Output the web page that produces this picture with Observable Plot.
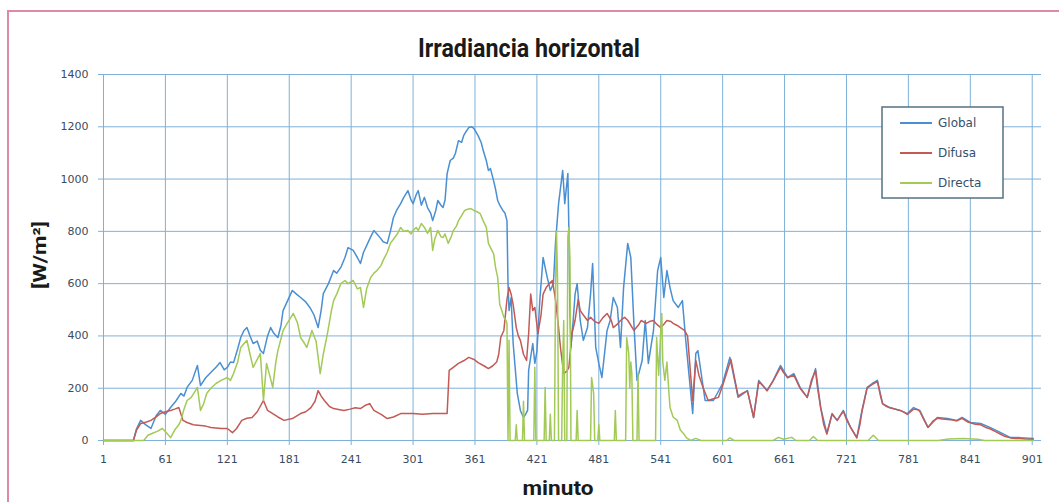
<!DOCTYPE html>
<html>
<head>
<meta charset="utf-8">
<script src="https://cdn.jsdelivr.net/npm/d3@7"></script>
<script src="https://cdn.jsdelivr.net/npm/@observablehq/plot@0.6"></script>
<style>
html,body{margin:0;padding:0;background:#fff;}
#wrap{position:relative;width:1059px;height:502px;overflow:hidden;}
#frame{position:absolute;left:7px;top:10px;width:1100px;height:600px;border:2px solid #dc8aa6;box-sizing:border-box;}
#chart{position:absolute;left:0;top:0;}
</style>
</head>
<body>
<div id="wrap"><div id="frame"></div><div id="chart"></div></div>
<script>
// ---- data (minute, W/m²) ----
const xTicks = [1, 61, 121, 181, 241, 301, 361, 421, 481, 541, 601, 661, 721, 781, 841, 901];
const yTicks = [0, 200, 400, 600, 800, 1000, 1200, 1400];
const seriesNames = ["Global", "Difusa", "Directa"];
const seriesColors = ["#4a8fd2", "#c25a56", "#a3c957"];

const globalSerie = [[1,0],[30,0],[33,45],[37,77],[42,60],[47,46],[52,95],[56,115],[61,100],[66,126],[71,150],[76,180],[79,170],[82,203],[87,230],[92,287],[95,210],[100,240],[105,260],[110,280],[114,298],[118,270],[121,280],[124,300],[127,298],[131,350],[134,394],[137,420],[140,432],[143,400],[146,371],[150,380],[153,345],[156,333],[160,400],[163,432],[166,410],[170,394],[173,440],[175,497],[180,540],[184,574],[188,560],[192,547],[197,530],[201,509],[205,480],[209,432],[212,500],[214,562],[219,600],[224,650],[227,640],[231,662],[235,700],[238,738],[243,727],[247,700],[250,677],[253,720],[257,754],[260,780],[263,803],[266,790],[269,776],[272,760],[276,754],[279,800],[282,853],[285,880],[289,906],[292,930],[296,956],[299,920],[301,906],[304,940],[306,956],[309,900],[312,930],[315,891],[318,870],[320,841],[323,880],[325,918],[328,900],[330,891],[332,920],[334,1021],[337,1071],[340,1080],[342,1098],[345,1147],[348,1140],[350,1166],[352,1180],[355,1197],[358,1200],[360,1193],[362,1180],[364,1166],[367,1140],[369,1109],[372,1070],[374,1033],[376,1040],[379,994],[381,960],[383,918],[385,900],[388,880],[390,870],[392,841],[393,600],[394,497],[396,547],[398,371],[402,180],[405,115],[408,88],[410,100],[412,115],[413,268],[417,371],[419,295],[421,340],[424,547],[427,700],[431,624],[434,574],[437,600],[439,754],[442,906],[446,1033],[448,906],[451,1021],[452,800],[453,500],[454,356],[456,450],[458,560],[460,600],[463,459],[466,383],[470,432],[473,560],[475,677],[478,356],[481,295],[484,241],[489,421],[492,459],[495,547],[499,509],[502,356],[505,585],[509,754],[512,700],[515,448],[518,230],[523,306],[526,459],[529,295],[534,421],[538,650],[541,700],[544,547],[547,650],[550,585],[553,535],[558,509],[562,535],[565,394],[568,268],[572,103],[575,333],[577,344],[584,153],[592,153],[601,218],[608,318],[616,165],[625,191],[631,88],[636,230],[644,191],[650,230],[657,287],[664,241],[670,256],[676,203],[683,165],[691,275],[696,126],[702,27],[707,103],[712,77],[718,115],[725,50],[731,11],[736,115],[741,203],[746,218],[751,230],[756,141],[763,126],[773,115],[780,103],[786,126],[792,115],[800,50],[809,88],[819,84],[828,77],[833,88],[841,69],[851,65],[860,50],[870,31],[880,11],[889,11],[902,8]];

const difusaSerie = [[1,0],[30,0],[33,40],[37,65],[42,70],[47,77],[52,90],[56,103],[61,110],[66,115],[70,120],[74,126],[78,77],[82,69],[88,60],[95,57],[100,55],[105,50],[110,48],[115,46],[121,46],[126,30],[130,46],[135,77],[140,85],[145,88],[150,110],[156,153],[160,115],[165,103],[170,90],[176,77],[184,84],[192,103],[197,110],[202,126],[206,150],[209,191],[212,170],[215,153],[220,130],[224,122],[230,118],[234,115],[240,120],[245,125],[250,122],[255,135],[259,141],[263,115],[270,100],[276,84],[282,90],[289,103],[295,103],[301,103],[310,100],[320,103],[330,103],[334,103],[336,268],[340,280],[345,295],[350,305],[355,318],[360,310],[364,298],[370,285],[374,275],[378,285],[382,300],[384,330],[386,395],[389,421],[392,540],[394,585],[396,560],[398,520],[401,432],[403,400],[405,383],[408,330],[411,306],[413,409],[415,560],[417,497],[419,509],[422,409],[425,480],[427,560],[430,585],[433,600],[436,612],[439,540],[442,432],[444,350],[447,256],[450,265],[452,280],[455,409],[458,460],[461,540],[463,497],[466,480],[470,459],[473,471],[477,455],[481,448],[485,470],[489,486],[493,460],[495,432],[499,445],[502,459],[506,471],[509,460],[515,421],[520,445],[522,459],[527,448],[530,455],[534,459],[537,445],[541,432],[544,445],[547,459],[551,455],[553,448],[557,440],[560,432],[564,421],[567,400],[570,250],[572,153],[575,306],[578,250],[582,203],[587,153],[592,160],[597,165],[601,210],[605,260],[609,310],[613,230],[616,170],[620,180],[625,190],[628,140],[631,88],[636,225],[640,210],[644,190],[650,228],[657,280],[660,260],[664,240],[670,250],[676,200],[680,180],[683,165],[687,230],[691,268],[693,200],[696,126],[699,60],[702,25],[705,70],[707,100],[712,77],[715,95],[718,112],[721,80],[725,50],[728,30],[731,10],[734,60],[736,110],[741,200],[746,215],[751,225],[754,170],[756,140],[760,130],[763,125],[768,120],[773,115],[777,108],[780,100],[786,120],[790,118],[792,112],[796,80],[800,50],[805,75],[809,85],[814,82],[819,80],[824,78],[828,75],[833,85],[838,72],[841,68],[846,62],[851,60],[856,50],[860,45],[865,35],[870,25],[875,15],[880,10],[885,8],[889,8],[895,6],[902,5]];

const directaSerie = [[1,0],[40,0],[44,20],[48,27],[53,35],[58,46],[62,30],[66,11],[70,40],[74,60],[76,77],[79,120],[82,153],[86,165],[90,190],[92,203],[95,115],[98,140],[101,180],[105,200],[110,218],[115,230],[121,241],[124,230],[127,256],[131,300],[134,356],[137,370],[140,383],[143,330],[146,280],[150,310],[153,333],[156,153],[159,295],[162,250],[165,203],[168,300],[170,344],[175,420],[179,448],[185,486],[189,450],[192,394],[196,370],[198,356],[203,421],[207,380],[211,256],[214,330],[218,409],[222,500],[224,535],[227,560],[231,600],[235,612],[238,600],[243,612],[247,580],[250,585],[253,509],[256,580],[260,624],[263,640],[266,650],[270,670],[272,689],[276,720],[279,754],[282,770],[286,792],[289,815],[292,800],[296,803],[299,790],[301,803],[304,815],[306,803],[309,830],[312,815],[315,792],[318,815],[320,727],[322,770],[325,803],[328,780],[330,776],[332,790],[335,754],[338,780],[340,803],[343,820],[345,841],[348,860],[351,880],[354,885],[357,887],[360,880],[363,875],[366,868],[369,840],[372,815],[374,754],[377,730],[379,715],[381,660],[383,624],[385,520],[387,497],[389,471],[391,460],[392,448],[393,0],[394,383],[395,0],[400,0],[401,60],[402,0],[407,0],[408,150],[409,0],[418,0],[419,280],[420,0],[428,0],[429,203],[430,0],[433,0],[434,100],[435,0],[438,0],[439,560],[440,800],[441,620],[442,0],[445,0],[446,300],[447,459],[448,0],[450,0],[451,780],[452,815],[453,700],[454,0],[459,0],[460,115],[461,0],[473,0],[474,241],[476,180],[477,0],[480,0],[481,60],[482,0],[496,0],[497,115],[498,0],[507,0],[508,394],[510,333],[511,200],[512,300],[513,256],[514,0],[518,0],[519,256],[520,0],[536,0],[537,394],[539,250],[541,420],[542,486],[543,300],[545,230],[547,300],[549,180],[550,126],[553,90],[557,77],[560,40],[563,27],[566,10],[570,0],[575,8],[580,0],[605,0],[608,10],[612,0],[650,0],[655,12],[660,5],[668,12],[672,0],[685,0],[689,15],[693,0],[742,0],[747,20],[752,0],[810,0],[820,6],[835,8],[848,5],[855,0],[902,0]];

const seriesData = [globalSerie, difusaSerie, directaSerie];
const gridColor = "#7fb1d8";

const chart = Plot.plot({
  width: 1059,
  height: 502,
  marginLeft: 103,
  marginRight: 18,
  marginTop: 74,
  marginBottom: 62,
  style: {fontFamily: "'DejaVu Sans', sans-serif", fontSize: "11px", color: "#3b4b5e", background: "transparent"},
  x: {domain: [1, 910]},
  y: {domain: [0, 1400]},
  marks: [
    Plot.gridX(xTicks, {stroke: gridColor, strokeOpacity: 1, strokeWidth: 1}),
    Plot.gridY(yTicks, {stroke: gridColor, strokeOpacity: 1, strokeWidth: 1}),
    Plot.axisX(xTicks, {tickSize: 5, tickPadding: 10, stroke: gridColor, fill: "#3b4b5e", label: null, tickFormat: d => String(d)}),
    Plot.axisY(yTicks, {tickSize: 5, tickPadding: 10, stroke: gridColor, fill: "#3b4b5e", label: null, tickFormat: d => String(d)}),
    Plot.ruleX([1], {stroke: gridColor}),
    ...seriesData.map((s, i) => Plot.line(s, {x: d => d[0], y: d => d[1], stroke: seriesColors[i], strokeWidth: 1.5, strokeLinejoin: "round"}))
  ]
});
document.getElementById("chart").appendChild(chart);

const svg = d3.select(chart);
svg.append("text").text("Irradiancia horizontal")
  .attr("x", 529).attr("y", 57).attr("text-anchor", "middle")
  .attr("font-family", "Roboto, sans-serif").attr("font-weight", "bold").attr("font-size", 26)
  .attr("fill", "#1a1a1a").attr("textLength", 222).attr("lengthAdjust", "spacingAndGlyphs");
svg.append("text").text("minuto")
  .attr("x", 558).attr("y", 495).attr("text-anchor", "middle")
  .attr("font-family", "Roboto, sans-serif").attr("font-weight", "bold").attr("font-size", 21)
  .attr("fill", "#1a1a1a").attr("textLength", 71).attr("lengthAdjust", "spacingAndGlyphs");
svg.append("text").text("[W/m²]")
  .attr("transform", "translate(46,255) rotate(-90)").attr("text-anchor", "middle")
  .attr("font-family", "Roboto, sans-serif").attr("font-weight", "bold").attr("font-size", 18)
  .attr("fill", "#1a1a1a").attr("textLength", 68).attr("lengthAdjust", "spacingAndGlyphs");

// legend
const lg = svg.append("g").attr("text-anchor", "start");
lg.append("rect").attr("x", 882).attr("y", 107).attr("width", 121).attr("height", 91)
  .attr("fill", "#fff").attr("stroke", "#557283").attr("stroke-width", 1.5);
seriesNames.forEach((name, i) => {
  const y = 123 + i * 30;
  lg.append("line").attr("x1", 900).attr("x2", 932).attr("y1", y).attr("y2", y)
    .attr("stroke", seriesColors[i]).attr("stroke-width", 2);
  lg.append("text").text(name).attr("x", 938).attr("y", y + 4).attr("text-anchor", "start")
    .attr("font-family", "'DejaVu Sans', sans-serif").attr("font-size", 12).attr("fill", "#34506a");
});
</script>
</body>
</html>
